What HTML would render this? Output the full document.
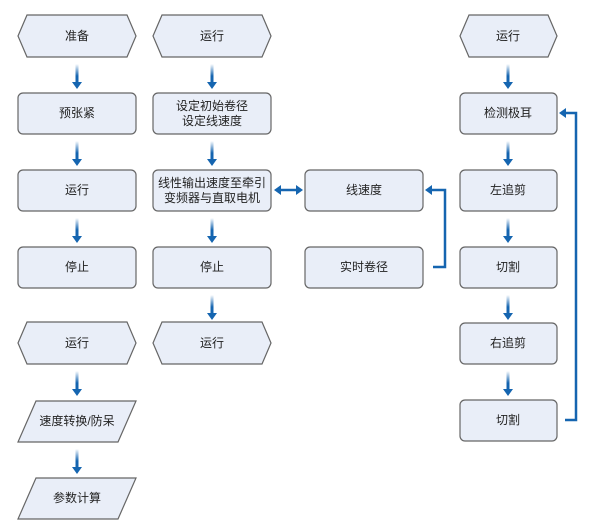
<!DOCTYPE html>
<html><head><meta charset="utf-8"><style>
html,body{margin:0;padding:0;background:#fff;}
svg{display:block;}
text{font-family:"Liberation Sans","Noto Sans CJK SC",sans-serif;font-size:12px;fill:#222;text-anchor:middle;dominant-baseline:central;}
.s{fill:#e9eef8;stroke:#666;stroke-width:1.2;}
.c{stroke:#1565b0;stroke-width:2.5;fill:none;}
</style></head><body>
<svg width="600" height="531" viewBox="0 0 600 531" xmlns="http://www.w3.org/2000/svg">
<defs>
<linearGradient id="g" x1="0" y1="0" x2="0" y2="1">
<stop offset="0" stop-color="#1565b0" stop-opacity="0"/>
<stop offset="0.6" stop-color="#1565b0" stop-opacity="1"/>
</linearGradient>
<g id="ar"><rect x="-1.5" y="0" width="3" height="20" fill="url(#g)"/><polygon points="-5,18 5,18 0,25" fill="#1565b0"/></g>
</defs>
<!-- column 1 -->
<polygon class="s" points="18,36 27,15 127,15 136,36 127,57 27,57"/><text x="77" y="36">准备</text>
<use href="#ar" x="77" y="64"/>
<rect class="s" x="18" y="93" width="118" height="41" rx="5"/><text x="77" y="113">预张紧</text>
<use href="#ar" x="77" y="141"/>
<rect class="s" x="18" y="170" width="118" height="41" rx="5"/><text x="77" y="190">运行</text>
<use href="#ar" x="77" y="218"/>
<rect class="s" x="18" y="247" width="118" height="41" rx="5"/><text x="77" y="267">停止</text>
<polygon class="s" points="18,343 27,322 127,322 136,343 127,364 27,364"/><text x="77" y="343">运行</text>
<use href="#ar" x="77" y="371"/>
<polygon class="s" points="36,401 136,401 118,442 18,442"/><text x="77" y="421">速度转换/防呆</text>
<use href="#ar" x="77" y="449"/>
<polygon class="s" points="36,478 136,478 118,519 18,519"/><text x="77" y="498">参数计算</text>
<!-- column 2 -->
<polygon class="s" points="153,36 162,15 262,15 271,36 262,57 162,57"/><text x="212" y="36">运行</text>
<use href="#ar" x="212" y="64"/>
<rect class="s" x="153" y="93" width="118" height="41" rx="5"/><text x="212" y="106">设定初始卷径</text><text x="212" y="121">设定线速度</text>
<use href="#ar" x="212" y="141"/>
<rect class="s" x="153" y="170" width="118" height="41" rx="5"/><text x="212" y="183">线性输出速度至牵引</text><text x="212" y="198">变频器与直取电机</text>
<use href="#ar" x="212" y="218"/>
<rect class="s" x="153" y="247" width="118" height="41" rx="5"/><text x="212" y="267">停止</text>
<use href="#ar" x="212" y="295"/>
<polygon class="s" points="153,343 162,322 262,322 271,343 262,364 162,364"/><text x="212" y="343">运行</text>
<!-- column 3 -->
<rect class="s" x="305" y="170" width="118" height="41" rx="5"/><text x="364" y="190">线速度</text>
<rect class="s" x="305" y="247" width="118" height="41" rx="5"/><text x="364" y="267">实时卷径</text>
<line class="c" x1="280" y1="190" x2="296" y2="190"/>
<polygon points="274,190 281,185 281,195" fill="#1565b0"/>
<polygon points="303,190 296,185 296,195" fill="#1565b0"/>
<polyline class="c" points="433,267 445,267 445,190 432,190"/>
<polygon points="425,190 432,185 432,195" fill="#1565b0"/>
<!-- column 4 -->
<polygon class="s" points="460,36 469,15 548,15 557,36 548,57 469,57"/><text x="508" y="36">运行</text>
<use href="#ar" x="508" y="64"/>
<rect class="s" x="460" y="93" width="97" height="41" rx="5"/><text x="508" y="113">检测极耳</text>
<use href="#ar" x="508" y="141"/>
<rect class="s" x="460" y="170" width="97" height="41" rx="5"/><text x="508" y="190">左追剪</text>
<use href="#ar" x="508" y="218"/>
<rect class="s" x="460" y="247" width="97" height="41" rx="5"/><text x="508" y="267">切割</text>
<use href="#ar" x="508" y="295"/>
<rect class="s" x="460" y="323" width="97" height="41" rx="5"/><text x="508" y="343">右追剪</text>
<use href="#ar" x="508" y="371"/>
<rect class="s" x="460" y="400" width="97" height="41" rx="5"/><text x="508" y="420">切割</text>
<polyline class="c" points="565,420 576,420 576,113 566,113"/>
<polygon points="559,113 566,108 566,118" fill="#1565b0"/>
</svg>
</body></html>
